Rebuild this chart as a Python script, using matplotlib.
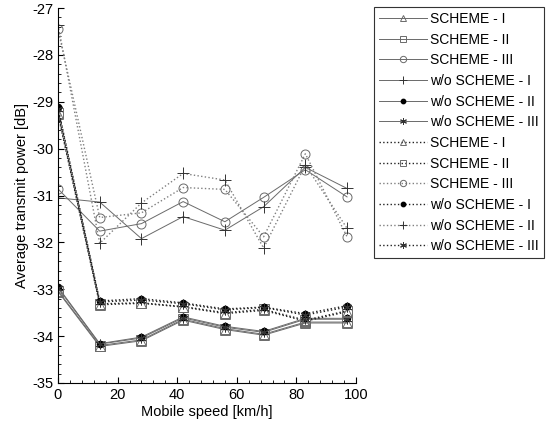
import numpy as np
import matplotlib
matplotlib.use('Agg')
import matplotlib.pyplot as plt
from matplotlib.ticker import MultipleLocator

plt.rcParams['font.family'] = ['Liberation Sans', 'DejaVu Sans']
plt.rcParams['axes.unicode_minus'] = False

# mobile speed [km/h]
speed = [0, 14, 28, 42, 56, 69, 83, 97]

# solid lines
s1_solid = [-33.05, -34.22, -34.10, -33.66, -33.86, -33.98, -33.72, -33.72]
s2_solid = [-33.03, -34.20, -34.08, -33.64, -33.84, -33.96, -33.70, -33.70]
s3_solid = [-30.86, -31.76, -31.60, -31.13, -31.56, -31.04, -30.45, -31.03]
wo1_solid = [-31.05, -31.14, -31.92, -31.45, -31.74, -31.24, -30.40, -30.85]
wo2_solid = [-32.95, -34.16, -34.02, -33.59, -33.79, -33.90, -33.62, -33.62]
wo3_solid = [-32.97, -34.17, -34.04, -33.61, -33.81, -33.92, -33.64, -33.64]

# dotted lines
s1_dot = [-29.27, -33.33, -33.30, -33.38, -33.52, -33.45, -33.68, -33.48]
s2_dot = [-29.24, -33.31, -33.29, -33.37, -33.50, -33.43, -33.66, -33.46]
s3_dot = [-27.45, -31.47, -31.37, -30.83, -30.87, -31.88, -30.11, -31.88]
wo1_dot = [-29.12, -33.25, -33.20, -33.29, -33.42, -33.38, -33.52, -33.35]
wo2_dot = [-27.36, -32.02, -31.16, -30.53, -30.67, -32.12, -30.35, -31.70]
wo3_dot = [-29.15, -33.27, -33.23, -33.31, -33.44, -33.39, -33.55, -33.38]

labels = ['SCHEME - I', 'SCHEME - II', 'SCHEME - III',
          'w/o SCHEME - I', 'w/o SCHEME - II', 'w/o SCHEME - III']

star = (6, 2, 0)  # asterisk marker

fig = plt.figure(figsize=(5.51, 4.28), dpi=100)
ax = fig.add_axes([58/551, 45/428, 298/551, 375/428])

gs = '#6a6a6a'  # solid line colour
gd = '#222222'  # dotted line colour
gl = '#808080'  # light dotted
open_kw = dict(mfc='none', ms=6.5, mew=0.7)

ax.plot(speed, s1_solid, '-', color=gs, lw=0.7, marker='^', mec=gs, **open_kw, label=labels[0])
ax.plot(speed, s2_solid, '-', color=gs, lw=0.7, marker='s', mec=gs, **open_kw, label=labels[1])
ax.plot(speed, s3_solid, '-', color=gs, lw=0.7, marker='o', mec=gs, **open_kw, label=labels[2])
ax.plot(speed, wo1_solid, '-', color=gs, lw=0.7, marker='+', mec='#333333', ms=8, mew=0.7, label=labels[3])
ax.plot(speed, wo2_solid, '-', color=gs, lw=0.7, marker='o', mec='k', mfc='k', ms=4.5, label=labels[4])
ax.plot(speed, wo3_solid, '-', color=gs, lw=0.7, marker=star, mec='#333333', ms=7, mew=0.7, label=labels[5])

ax.plot(speed, s1_dot, ':', color=gd, lw=1.0, marker='^', mec=gs, **open_kw, label=labels[0])
ax.plot(speed, s2_dot, ':', color=gd, lw=1.0, marker='s', mec=gs, **open_kw, label=labels[1])
ax.plot(speed, s3_dot, ':', color=gl, lw=1.0, marker='o', mec=gs, **open_kw, label=labels[2])
ax.plot(speed, wo1_dot, ':', color=gd, lw=1.0, marker='o', mec='k', mfc='k', ms=4.5, label=labels[3])
ax.plot(speed, wo2_dot, ':', color=gl, lw=1.0, marker='+', mec='#333333', ms=8, mew=0.7, label=labels[4])
ax.plot(speed, wo3_dot, ':', color=gd, lw=1.0, marker=star, mec='#333333', ms=7, mew=0.7, label=labels[5])

ax.set_xlim(0, 100)
ax.set_ylim(-35, -27)
ax.xaxis.set_major_locator(MultipleLocator(20))
ax.xaxis.set_minor_locator(MultipleLocator(4))
ax.yaxis.set_major_locator(MultipleLocator(1))
ax.yaxis.set_minor_locator(MultipleLocator(0.2))
ax.tick_params(which='both', direction='in', labelsize=10.5)
ax.tick_params(which='major', length=4)
ax.tick_params(which='minor', length=2)
ax.spines['top'].set_visible(False)
ax.spines['right'].set_visible(False)

ax.set_xlabel('Mobile speed [km/h]', fontsize=10.5, labelpad=2)
ax.set_ylabel('Average transmit power [dB]', fontsize=10.5, labelpad=2)

leg = fig.legend(loc='upper left', bbox_to_anchor=(374/551, 1 - 7/428),
                 borderaxespad=0, fontsize=10, handlelength=3.5,
                 handletextpad=0.2, labelspacing=0.48, borderpad=0.35,
                 markerscale=0.7, fancybox=False, edgecolor='#333333',
                 framealpha=1)
leg.get_frame().set_linewidth(0.8)

plt.savefig('out.png', dpi=100)
